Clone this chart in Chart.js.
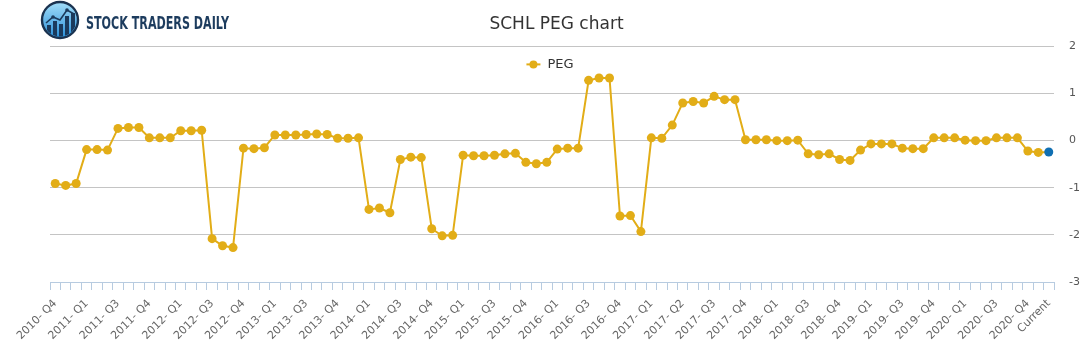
<!DOCTYPE html>
<html>
<head>
<meta charset="utf-8">
<script src="https://cdn.jsdelivr.net/npm/chart.js@4/dist/chart.umd.min.js"></script>
<style>
  html, body { margin: 0; padding: 0; background: #fff; }
  #wrap { position: relative; width: 1091px; height: 350px; }
  #logo { position: absolute; left: 0; top: 0; }
</style>
</head>
<body>
<div id="wrap">
  <canvas id="c" width="1091" height="350"></canvas>
  <svg id="logo" width="240" height="42" viewBox="0 0 240 42">
    <defs>
      <linearGradient id="g" x1="0" y1="0" x2="0" y2="1">
        <stop offset="0" stop-color="#a3def9"/>
        <stop offset="1" stop-color="#2a8fd8"/>
      </linearGradient>
      <clipPath id="cp"><circle cx="60" cy="20" r="16.5"/></clipPath>
    </defs>
    <circle cx="60" cy="20" r="18" fill="url(#g)" stroke="#1b3350" stroke-width="2.4"/>
    <g clip-path="url(#cp)" fill="#1b3a5c">
      <rect x="47" y="25" width="4" height="14"/>
      <rect x="53" y="21" width="4" height="18"/>
      <rect x="59" y="24" width="4" height="15"/>
      <rect x="65" y="16" width="4" height="23"/>
      <rect x="71" y="13" width="4" height="26"/>
    </g>
    <polyline points="46,23 53,17 60,20 67,10 74,14" fill="none" stroke="#1b3a5c" stroke-width="1.6"/>
    <circle cx="53" cy="17" r="1.8" fill="#1b3a5c"/>
    <circle cx="67" cy="10" r="1.8" fill="#1b3a5c"/>
    <text x="86" y="29" font-family="DejaVu Sans Condensed, Liberation Sans Narrow, sans-serif" font-size="18.5" font-weight="bold" fill="#1d3c5e" textLength="143" lengthAdjust="spacingAndGlyphs">STOCK TRADERS DAILY</text>
  </svg>
</div>
<script>
// Quarter group names (each group holds three readings); last reading is "Current"
const quarterGroups = [
  "2010- Q4","2011- Q1","2011- Q3","2011- Q4","2012- Q1","2012- Q3","2012- Q4","2013- Q1",
  "2013- Q3","2013- Q4","2014- Q1","2014- Q3","2014- Q4","2015- Q1","2015- Q3","2015- Q4",
  "2016- Q1","2016- Q3","2016- Q4","2017- Q1","2017- Q2","2017- Q3","2017- Q4","2018- Q1",
  "2018- Q3","2018- Q4","2019- Q1","2019- Q3","2019- Q4","2020- Q1","2020- Q3","2020- Q4"
];
const currentLabel = "Current";

const pegValues = [
  -0.91, -0.95, -0.91,
  -0.19, -0.19, -0.20,
   0.26,  0.28,  0.28,
   0.06,  0.06,  0.06,
   0.21,  0.21,  0.22,
  -2.08, -2.23, -2.27,
  -0.16, -0.17, -0.15,
   0.12,  0.12,  0.12,
   0.13,  0.14,  0.13,
   0.05,  0.05,  0.06,
  -1.46, -1.43, -1.53,
  -0.40, -0.35, -0.36,
  -1.87, -2.02, -2.01,
  -0.31, -0.32, -0.32,
  -0.31, -0.28, -0.27,
  -0.46, -0.49, -0.46,
  -0.18, -0.16, -0.16,
   1.28,  1.33,  1.33,
  -1.60, -1.59, -1.93,
   0.06,  0.05,  0.33,
   0.80,  0.83,  0.80,
   0.94,  0.87,  0.87,
   0.02,  0.02,  0.02,
   0.00,  0.00,  0.01,
  -0.28, -0.30, -0.28,
  -0.40, -0.42, -0.20,
  -0.07, -0.07, -0.07,
  -0.16, -0.17, -0.17,
   0.06,  0.06,  0.06,
   0.01,  0.00,  0.00,
   0.06,  0.06,  0.06,
  -0.22, -0.25, -0.24
];

const yTicks = [-3, -2, -1, 0, 1, 2];

// categories: each group name repeated for its three readings, last one is "Current"
const categories = [];
quarterGroups.forEach(q => { categories.push(q, q, q); });
categories[categories.length - 1] = currentLabel;

const lineColor = '#e2ad17';
const lastColor = '#106fb2';
const n = pegValues.length;
const pointColors = pegValues.map((v, i) => i === n - 1 ? lastColor : lineColor);

const FONT = "'DejaVu Sans', 'Liberation Sans', sans-serif";

// legend drawn inside the plot area, centred, like the reference
const pegLegend = {
  id: 'pegLegend',
  afterDatasetsDraw(chart) {
    const ctx = chart.ctx, ca = chart.chartArea;
    const label = chart.data.datasets[0].label;
    ctx.save();
    ctx.font = "13px " + FONT;
    const tw = ctx.measureText(label).width;
    const total = 14 + 7 + tw;
    const x0 = (ca.left + ca.right) / 2 - total / 2 - 2;
    const y = ca.top + 18;
    ctx.strokeStyle = lineColor; ctx.lineWidth = 2;
    ctx.beginPath(); ctx.moveTo(x0, y); ctx.lineTo(x0 + 14, y); ctx.stroke();
    ctx.fillStyle = lineColor;
    ctx.beginPath(); ctx.arc(x0 + 7, y, 4, 0, Math.PI * 2); ctx.fill();
    ctx.fillStyle = '#333';
    ctx.textBaseline = 'middle';
    ctx.fillText(label, x0 + 21, y + 0.5);
    ctx.restore();
  }
};

new Chart(document.getElementById('c'), {
  type: 'line',
  data: {
    labels: categories,
    datasets: [{
      label: 'PEG',
      data: pegValues,
      borderColor: lineColor,
      backgroundColor: lineColor,
      borderWidth: 2,
      pointRadius: 4.5,
      pointHoverRadius: 4.5,
      pointBorderWidth: 0,
      pointBackgroundColor: pointColors,
      pointBorderColor: pointColors,
      tension: 0,
      fill: false
    }]
  },
  plugins: [pegLegend],
  options: {
    responsive: false,
    animation: false,
    events: [],
    layout: { padding: { left: 22, right: 0, top: 0, bottom: 0 } },
    plugins: {
      tooltip: { enabled: false },
      legend: { display: false },
      title: {
        display: true,
        text: 'SCHL PEG chart',
        color: '#333',
        font: { family: FONT, size: 17, weight: 'normal' },
        padding: { top: 14, bottom: 12 }
      }
    },
    scales: {
      x: {
        offset: true,
        afterFit: (scale) => { scale.paddingLeft = 50; scale.height = 68; },
        grid: {
          display: true,
          drawOnChartArea: false,
          drawTicks: true,
          tickLength: 8,
          color: '#b7cbe0',
          offset: true
        },
        border: { display: true, color: '#b7cbe0' },
        ticks: {
          autoSkip: false,
          minRotation: 45,
          maxRotation: 45,
          color: '#666',
          font: { family: FONT, size: 11 },
          padding: 7,
          callback: function (val, idx) {
            return (idx % 3 === 0 || idx === n - 1) ? this.getLabelForValue(val) : '';
          }
        }
      },
      y: {
        position: 'right',
        min: -3,
        max: 2,
        afterBuildTicks: (scale) => { scale.ticks = yTicks.map(v => ({ value: v })); },
        afterFit: (scale) => { scale.width = 37; },
        grid: { color: '#c4c4c4', drawTicks: false, lineWidth: 1 },
        border: { display: false },
        ticks: {
          color: '#555',
          padding: 15,
          font: { family: FONT, size: 11 }
        }
      }
    }
  }
});
</script>
</body>
</html>
